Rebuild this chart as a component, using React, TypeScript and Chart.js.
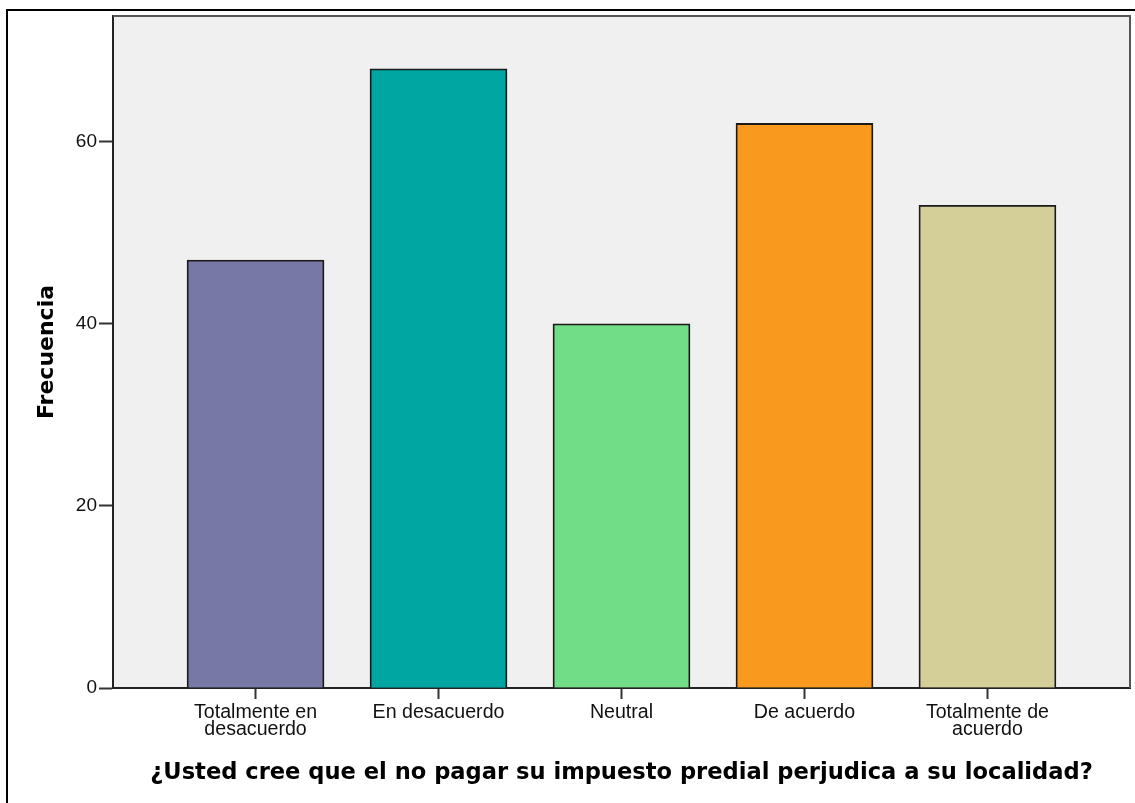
import React, { useEffect, useRef } from "react";
import { Chart, registerables } from "chart.js";

Chart.register(...registerables);

const categories: string[][] = [
  ["Totalmente en", "desacuerdo"],
  ["En desacuerdo"],
  ["Neutral"],
  ["De acuerdo"],
  ["Totalmente de", "acuerdo"],
];
const frequencies: number[] = [47, 68, 40, 62, 53];
const barColors: string[] = ["#7878A6", "#00A6A2", "#72DD87", "#F99A1E", "#D4CF98"];
const yTickValues: number[] = [0, 20, 40, 60];
const xTitle = "¿Usted cree que el no pagar su impuesto predial perjudica a su localidad?";
const yTitle = "Frecuencia";

const framePlugin = {
  id: "framePlugin",
  beforeDraw(chart: any) {
    const { ctx, chartArea } = chart;
    ctx.save();
    ctx.fillStyle = "#ffffff";
    ctx.fillRect(0, 0, chart.width, chart.height);
    ctx.fillStyle = "#F0F0F0";
    ctx.fillRect(chartArea.left, chartArea.top, chartArea.right - chartArea.left, chartArea.bottom - chartArea.top);
    ctx.fillStyle = "#000000";
    ctx.fillRect(6, 9, 2, chart.height);
    ctx.fillRect(6, 9, chart.width, 2);
    ctx.restore();
  },
  afterDatasetsDraw(chart: any) {
    const { ctx, chartArea } = chart;
    ctx.save();
    ctx.strokeStyle = "#555555";
    ctx.lineWidth = 2;
    ctx.beginPath();
    ctx.moveTo(chartArea.left, chartArea.top);
    ctx.lineTo(chartArea.right, chartArea.top);
    ctx.lineTo(chartArea.right, chartArea.bottom);
    ctx.stroke();
    ctx.restore();
  },
};

export default function App() {
  const ref = useRef<HTMLCanvasElement | null>(null);
  useEffect(() => {
    if (!ref.current) return;
    const chart = new Chart(ref.current, {
      type: "bar",
      data: {
        datasets: [
          {
            data: frequencies.map((v, i) => ({ x: i, y: v })),
            backgroundColor: barColors,
            borderColor: "#1a1a1a",
            borderWidth: 1.8,
            barThickness: 137,
          },
        ],
      },
      options: {
        responsive: false,
        animation: false,
        layout: { padding: { left: 0, top: 16, right: 5, bottom: 0 } },
        plugins: { legend: { display: false }, tooltip: { enabled: false } },
        scales: {
          x: {
            type: "linear",
            min: -0.779,
            max: 4.779,
            offset: false,
            afterBuildTicks: (s: any) => {
              s.ticks = categories.map((_, i) => ({ value: i }));
            },
            afterFit: (s: any) => {
              s.height = 115;
            },
            grid: {
              offset: false,
              drawOnChartArea: false,
              drawTicks: true,
              tickLength: 11,
              tickWidth: 2,
              tickColor: "#333333",
            },
            border: { display: true, color: "#222222", width: 2 },
            ticks: {
              autoSkip: false,
              maxRotation: 0,
              padding: 5,
              color: "#111111",
              font: { family: "'Liberation Sans', Arial, sans-serif", size: 19.6, lineHeight: 0.88 },
              callback: (v: any) => categories[Math.round(Number(v))] ?? "",
            },
            title: {
              display: true,
              text: xTitle,
              color: "#000000",
              font: { family: "'DejaVu Sans', sans-serif", size: 22.6, weight: "bold", lineHeight: 1.2 },
              padding: { top: 0, bottom: 16 },
            },
          },
          y: {
            min: 0,
            max: 73.8,
            afterBuildTicks: (s: any) => {
              s.ticks = yTickValues.map((v) => ({ value: v }));
            },
            afterFit: (s: any) => {
              s.width = 113;
            },
            grid: {
              drawOnChartArea: false,
              drawTicks: true,
              tickLength: 14,
              tickWidth: 2,
              tickColor: "#333333",
            },
            border: { display: true, color: "#222222", width: 2 },
            ticks: {
              padding: 2,
              color: "#111111",
              font: { family: "'Liberation Sans', Arial, sans-serif", size: 19 },
            },
            title: {
              display: true,
              text: yTitle,
              color: "#000000",
              font: { family: "'DejaVu Sans', sans-serif", size: 22, weight: "bold", lineHeight: 1.2 },
              padding: { top: 34, bottom: 0 },
            },
          },
        },
      },
      plugins: [framePlugin],
    });
    return () => chart.destroy();
  }, []);
  return (
    <div style={{ position: "fixed", left: 0, top: 0, width: 1135, height: 803, background: "#fff" }}>
      <canvas ref={ref} width={1135} height={803} />
    </div>
  );
}
